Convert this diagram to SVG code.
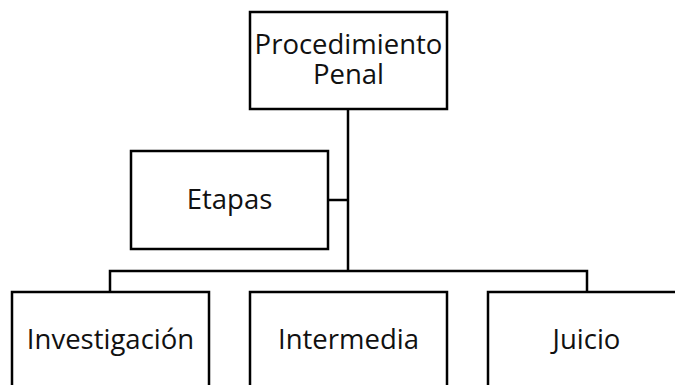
<svg xmlns="http://www.w3.org/2000/svg" width="675" height="385" viewBox="0 0 675 385">
<style>
.box{fill:#fff;stroke:#000;stroke-width:2.5}
.ln{fill:none;stroke:#000;stroke-width:2.5}
text{font-family:"Open Sans","Liberation Sans",sans-serif;font-size:27.5px;fill:#111;text-anchor:middle}
</style>
<rect width="675" height="385" fill="#fff"/>
<g id="connectors">
<path class="ln" d="M348,109 V271"/>
<path class="ln" d="M328,200 H348"/>
<path class="ln" d="M110,291 V271 H587 V291"/>
</g>
<g id="n-procedimiento">
<rect class="box" x="250" y="12" width="197" height="97"/>
<text><tspan x="348.5" y="54">Procedimiento</tspan><tspan x="348.5" y="84">Penal</tspan></text>
</g>
<g id="n-etapas">
<rect class="box" x="131" y="151" width="197" height="98"/>
<text x="229.5" y="209">Etapas</text>
</g>
<g id="n-investigacion">
<rect class="box" x="12" y="292" width="197" height="97"/>
<text x="110.5" y="349">Investigación</text>
</g>
<g id="n-intermedia">
<rect class="box" x="250" y="292" width="197" height="97"/>
<text x="348.5" y="349">Intermedia</text>
</g>
<g id="n-juicio">
<rect class="box" x="488" y="292" width="197" height="97"/>
<text x="586.5" y="349">Juicio</text>
</g>
</svg>
